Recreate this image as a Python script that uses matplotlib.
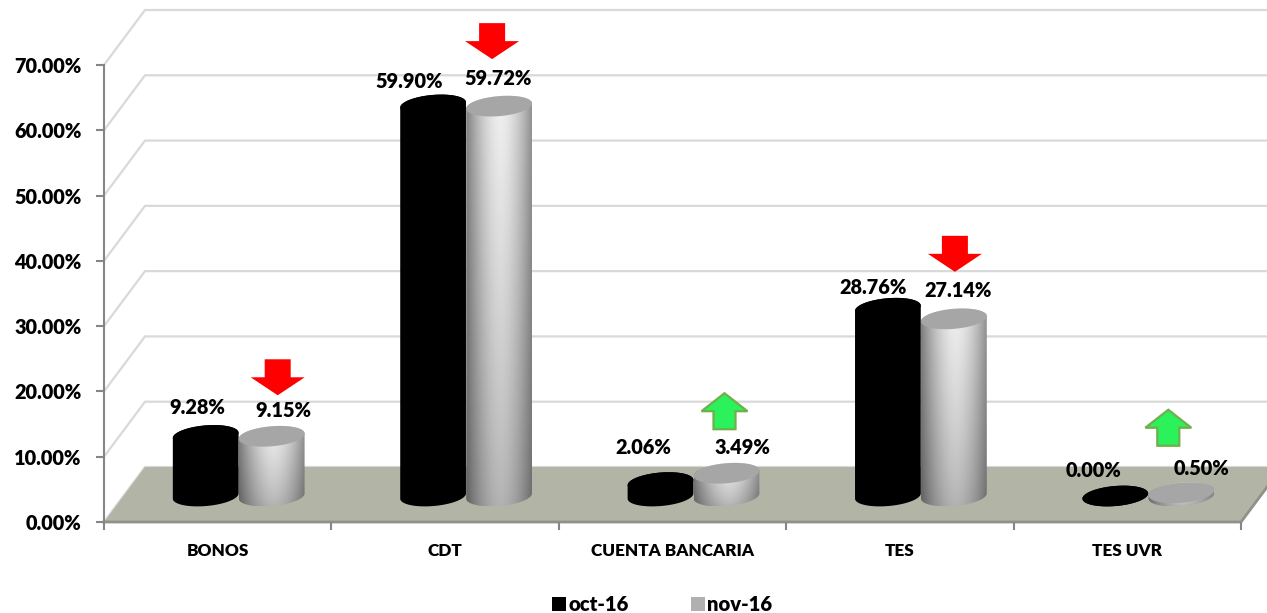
import numpy as np
import matplotlib
matplotlib.use("Agg")
import matplotlib.pyplot as plt
from matplotlib.patches import Polygon, Patch, PathPatch
from matplotlib.path import Path

categories = ["BONOS", "CDT", "CUENTA BANCARIA", "TES", "TES UVR"]
oct_values = [9.28, 59.90, 2.06, 28.76, 0.00]
nov_values = [9.15, 59.72, 3.49, 27.14, 0.50]
series_names = ["oct-16", "nov-16"]
y_ticks = [0, 10, 20, 30, 40, 50, 60, 70]

# label offsets in pixels from the top of each cylinder
oct_label_off = [(-8, 28), (-24, 23), (-17, 35), (-15, 21), (-22, 26)]
nov_label_off = [(12, 26), (-1, 28), (16, 26), (4, 28), (20, 24)]
arrow_off = [(6, 59), (-7, 65), (-2, 62), (1, 65), (-13, 65)]

W, H = 1267, 613
plt.rcParams["font.family"] = ["Lato", "DejaVu Sans"]
plt.rcParams["font.weight"] = "heavy"

fig = plt.figure(figsize=(W / 100, H / 100), dpi=100)
ax = fig.add_axes([104 / W, (H - 522) / H, 1137 / W, 457 / H])
ax.set_xlim(0, 5)
ax.set_ylim(0, 70)
ax.set_autoscale_on(False)

xu = 1137 / 5.0   # pixels per category
yu = 457 / 70.0   # pixels per percent
depth_x = 41 / xu
depth_y = 55 / yu

# floor
floor = Polygon([(0, 0), (depth_x, depth_y), (5 + depth_x, depth_y), (5, 0)],
                closed=True, facecolor="#b2b5a6", edgecolor="none", clip_on=False, zorder=1)
ax.add_patch(floor)
ax.plot([0, 5, 5 + depth_x], [0, 0, depth_y], color="#8f918a", lw=2, clip_on=False, zorder=1.5)

# back wall grid lines
for t in y_ticks:
    ax.plot([0, depth_x, 5 + depth_x], [t, t + depth_y, t + depth_y],
            color="#d9d9d9", lw=1.6, clip_on=False, zorder=0.5)


def ellipse_pts(cx, cy, t0, t1, a=33.0, b=10.0, tilt=np.radians(5), n=60):
    t = np.linspace(t0, t1, n)
    px = a * np.cos(t) * np.cos(tilt) - b * np.sin(t) * np.sin(tilt)
    py = a * np.cos(t) * np.sin(tilt) + b * np.sin(t) * np.cos(tilt)
    return np.column_stack([cx + px / xu, cy + py / yu])


def shade_image():
    u = np.linspace(-1, 1, 120)
    v = np.linspace(0, 1, 120)
    across = 0.54 + 0.40 * (1 - np.abs(u - 0.05) ** 1.7)
    down = 0.74 + 0.26 * v ** 0.8
    img = np.outer(down, across)
    return np.clip(img, 0, 1)


def cylinder(cx, value, kind, base=3.98):
    top = base + value
    body = np.vstack([ellipse_pts(cx, base, np.pi, 2 * np.pi),
                      ellipse_pts(cx, top, 0, np.pi)])
    cap = ellipse_pts(cx, top, 0, 2 * np.pi)
    if kind == "black":
        ax.add_patch(Polygon(body, closed=True, facecolor="black", edgecolor="none", zorder=3, clip_on=False))
        ax.add_patch(Polygon(cap, closed=True, facecolor="black", edgecolor="none", zorder=3, clip_on=False))
    else:
        p = PathPatch(Path(np.vstack([body, body[0]])), facecolor="none", edgecolor="none",
                      transform=ax.transData, zorder=4)
        ax.add_patch(p)
        ylo, yhi = body[:, 1].min(), body[:, 1].max()
        im = ax.imshow(shade_image(), cmap="gray", vmin=0, vmax=1, aspect="auto", origin="lower",
                       extent=(cx - 33 / xu, cx + 33 / xu, ylo, yhi), zorder=4, clip_on=True)
        im.set_clip_path(p)
        ax.add_patch(Polygon(cap, closed=True, facecolor="#a6a6a6", edgecolor="none", zorder=4.5, clip_on=False))


def arrow(cx, cy, down):
    if down:
        hw, sw = 27 / xu, 13 / xu
    else:
        hw, sw = 23 / xu, 11 / xu
    hh, sh = 18 / yu, 18 / yu
    pts = [(-sw, sh), (sw, sh), (sw, 0), (hw, 0), (0, -hh), (-hw, 0), (-sw, 0)]
    s = 1 if down else -1
    xy = [(cx + p[0], cy + s * p[1]) for p in pts]
    if down:
        ax.add_patch(Polygon(xy, closed=True, facecolor="#ff0000", edgecolor="none", zorder=6, clip_on=False))
    else:
        ax.add_patch(Polygon(xy, closed=True, facecolor="#2bf15a", edgecolor="#6fb04c", lw=1.6, zorder=6, clip_on=False))


shift = 21 / xu  # the pair sits further back on the floor
half = 33 / xu
for i in range(len(categories)):
    c = i + 0.5 + shift
    cylinder(c - half, oct_values[i], "black")
    cylinder(c + half, nov_values[i], "gray")
    ax.annotate("%.2f%%" % oct_values[i], (c - half, 3.98 + oct_values[i]),
                xytext=oct_label_off[i], textcoords="offset pixels", ha="center", va="center",
                fontsize=14.3, color="black", zorder=7, annotation_clip=False)
    ax.annotate("%.2f%%" % nov_values[i], (c + half, 3.98 + nov_values[i]),
                xytext=nov_label_off[i], textcoords="offset pixels", ha="center", va="center",
                fontsize=14.3, color="black", zorder=7, annotation_clip=False)
    dx, dy = arrow_off[i]
    arrow(c + half + dx / xu, 3.98 + nov_values[i] + dy / yu, nov_values[i] < oct_values[i])

# axes
for s in ["top", "right"]:
    ax.spines[s].set_visible(False)
ax.spines["left"].set_color("#868686")
ax.spines["left"].set_linewidth(1.5)
ax.spines["bottom"].set_visible(False)
ax.patch.set_alpha(0)
ax.set_yticks(y_ticks)
ax.set_yticklabels(["%.2f%%" % t for t in y_ticks], fontsize=14.3)
ax.tick_params(axis="y", direction="out", length=6, width=1.5, color="#868686", pad=10)
ax.set_xticks(range(6))
ax.set_xticklabels([])
ax.tick_params(axis="x", direction="out", length=6, width=1.5, color="#868686")
ax.set_xticks([i + 0.5 for i in range(5)], minor=True)
ax.set_xticklabels(categories, minor=True, fontsize=12.3)
ax.tick_params(axis="x", which="minor", length=0, pad=15)

handles = [Patch(facecolor="black", label=series_names[0]),
           Patch(facecolor="#b0b0b0", label=series_names[1])]
fig.legend(handles=handles, loc="lower left", bbox_to_anchor=(538 / W, -15 / H), ncol=2, frameon=False,
           fontsize=14.6, handlelength=0.7, handleheight=0.7, handletextpad=0.1, columnspacing=3.05,
           borderpad=0.2)

fig.savefig("out.png", dpi=100)
